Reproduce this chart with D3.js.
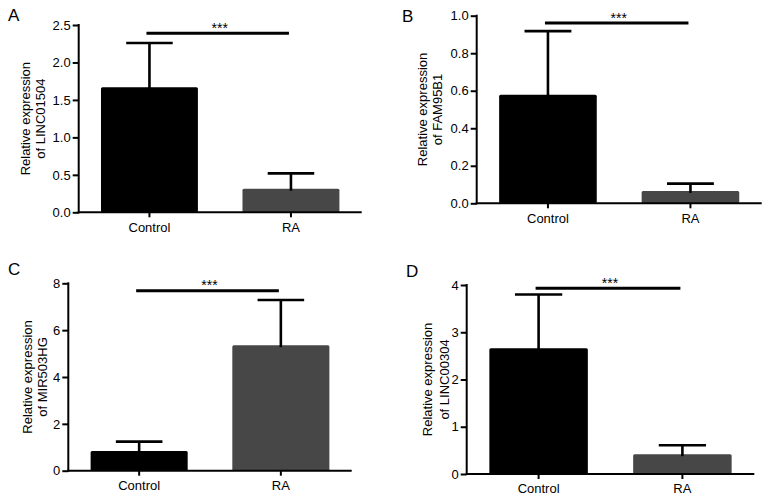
<!DOCTYPE html>
<html>
<head>
<meta charset="utf-8">
<script src="https://cdn.jsdelivr.net/npm/d3@7"></script>
<style>
  html, body { margin: 0; padding: 0; background: #fff; }
  svg { display: block; font-family: "Liberation Sans", Arial, Helvetica, sans-serif; }
</style>
</head>
<body>
<svg id="chart" width="765" height="500"></svg>
<script>
// ---- data ----
const categories = ["Control", "RA"];
const panelLabels = ["A", "B", "C", "D"];
const genes = ["LINC01504", "FAM95B1", "MIR503HG", "LINC00304"];
const controlMeans = [1.67, 0.579, 0.84, 2.66];
const controlSD = [0.59, 0.339, 0.40, 1.14];
const raMeans = [0.315, 0.066, 5.36, 0.42];
const raSD = [0.205, 0.039, 1.93, 0.19];
const yMax = [2.5, 1.0, 8, 4];
const yTicks = [
  [0, 0.5, 1.0, 1.5, 2.0, 2.5],
  [0, 0.2, 0.4, 0.6, 0.8, 1.0],
  [0, 2, 4, 6, 8],
  [0, 1, 2, 3, 4]
];
const tickFormats = [".1f", ".1f", "d", "d"];
const sigLevel = [2.39, 0.961, 7.68, 3.93];
const sigText = ["***", "***", "***", "***"];

// ---- layout (pixels) ----
const layout = [
  { x0: 78.7, x1: 361.7, yTop: 25, yBot: 212.3, t1: 30, t2: 45, lx: 8, ly: 21 },
  { x0: 476.7, x1: 761.7, yTop: 15.7, yBot: 203.3, t1: 427, t2: 442, lx: 402, ly: 22 },
  { x0: 68.3, x1: 351.7, yTop: 283.3, yBot: 470.7, t1: 32, t2: 47, lx: 8, ly: 275 },
  { x0: 466.7, x1: 754.3, yTop: 285, yBot: 474, t1: 432, t2: 449, lx: 406, ly: 277 }
];
const barColors = ["#000000", "#474747"];

const svg = d3.select("#chart");

layout.forEach((L, i) => {
  const g = svg.append("g");
  const x = d3.scaleBand().domain(categories).range([L.x0, L.x1])
    .paddingInner(0.315).paddingOuter(0.1575);
  const y = d3.scaleLinear().domain([0, yMax[i]]).range([L.yBot, L.yTop]);

  const means = [controlMeans[i], raMeans[i]];
  const sds = [controlSD[i], raSD[i]];
  const rows = categories.map((c, k) => ({ c, m: means[k], sd: sds[k], col: barColors[k] }));

  // bars
  g.selectAll("rect.bar").data(rows).enter().append("rect")
    .attr("class", "bar")
    .attr("x", d => x(d.c))
    .attr("width", x.bandwidth())
    .attr("y", d => y(d.m))
    .attr("height", d => y(0) - y(d.m))
    .attr("rx", 1.5)
    .attr("fill", d => d.col);

  // error bars
  const capW = x.bandwidth() * 0.48;
  g.selectAll("line.ev").data(rows).enter().append("line")
    .attr("x1", d => x(d.c) + x.bandwidth() / 2)
    .attr("x2", d => x(d.c) + x.bandwidth() / 2)
    .attr("y1", d => y(d.m) + 2)
    .attr("y2", d => y(d.m + d.sd))
    .attr("stroke", "#000").attr("stroke-width", 2.6);
  g.selectAll("line.ec").data(rows).enter().append("line")
    .attr("x1", d => x(d.c) + x.bandwidth() / 2 - capW / 2)
    .attr("x2", d => x(d.c) + x.bandwidth() / 2 + capW / 2)
    .attr("y1", d => y(d.m + d.sd))
    .attr("y2", d => y(d.m + d.sd))
    .attr("stroke", "#000").attr("stroke-width", 2.6);

  // y axis
  const yAxis = d3.axisLeft(y).tickValues(yTicks[i]).tickFormat(d3.format(tickFormats[i]))
    .tickSize(6).tickPadding(2).tickSizeOuter(0);
  const ya = g.append("g").attr("transform", `translate(${L.x0},0)`).call(yAxis);
  ya.select(".domain").attr("stroke", "#000").attr("stroke-width", 2)
    .attr("d", `M0,${L.yBot + 1}V${L.yTop - 1}`);
  ya.selectAll(".tick line").attr("stroke", "#000").attr("stroke-width", 2);
  ya.selectAll(".tick text").attr("font-size", 13).attr("fill", "#000")
    .attr("font-family", "Liberation Sans, Arial, sans-serif");

  // x axis
  const xAxis = d3.axisBottom(x).tickSize(5).tickPadding(5).tickSizeOuter(0);
  const xa = g.append("g").attr("transform", `translate(0,${L.yBot})`).call(xAxis);
  xa.select(".domain").attr("stroke", "#000").attr("stroke-width", 2)
    .attr("d", `M${L.x0 - 1},0H${L.x1}`);
  xa.selectAll(".tick line").attr("stroke", "#000").attr("stroke-width", 2);
  xa.selectAll(".tick text").attr("font-size", 13).attr("fill", "#000")
    .attr("font-family", "Liberation Sans, Arial, sans-serif");

  // significance line
  const sx1 = x(categories[0]) + x.bandwidth() / 2 - 3;
  const sx2 = x(categories[1]) + x.bandwidth() / 2 - 2;
  g.append("line")
    .attr("x1", sx1).attr("x2", sx2)
    .attr("y1", y(sigLevel[i])).attr("y2", y(sigLevel[i]))
    .attr("stroke", "#000").attr("stroke-width", 3);
  g.append("text")
    .attr("x", (sx1 + sx2) / 2 + 2)
    .attr("y", y(sigLevel[i]) - 0.5)
    .attr("text-anchor", "middle")
    .attr("font-size", 14)
    .text(sigText[i]);

  // y title
  const cy = (L.yTop + L.yBot) / 2;
  g.append("text")
    .attr("transform", `translate(${L.t1},${cy}) rotate(-90)`)
    .attr("text-anchor", "middle").attr("font-size", 13)
    .text("Relative expression");
  g.append("text")
    .attr("transform", `translate(${L.t2},${cy}) rotate(-90)`)
    .attr("text-anchor", "middle").attr("font-size", 13)
    .text("of " + genes[i]);

  // panel label
  g.append("text")
    .attr("x", L.lx).attr("y", L.ly)
    .attr("font-size", 17)
    .text(panelLabels[i]);
});
</script>
</body>
</html>
